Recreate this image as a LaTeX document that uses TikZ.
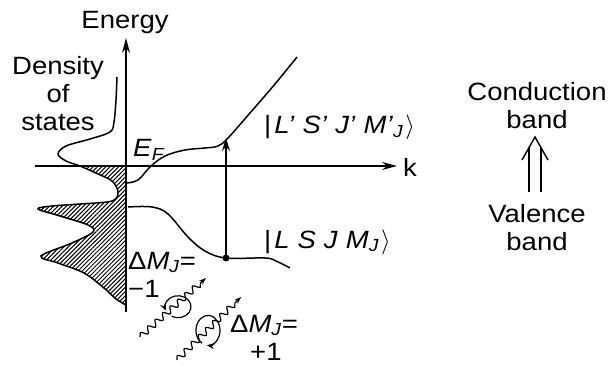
\documentclass[tikz,border=0pt]{standalone}
\usepackage{fontspec}
\setmainfont{Liberation Sans}[FakeStretch=1.1]
\usetikzlibrary{arrows.meta,patterns.meta,decorations.pathmorphing}

\tikzset{
  band/.style={line width=1.5pt},
  lbl/.style={font=\fontsize{25}{28}\selectfont, inner sep=0pt},
  photon/.style={line width=1.2pt, decorate,
    decoration={snake, amplitude=3pt, segment length=10pt, post length=7pt},
    -{Stealth[length=7pt,width=5pt]}},
  swirl/.style={line width=1.2pt, -{Stealth[length=7pt,width=6pt]}},
}

\begin{document}
\begin{tikzpicture}[x=1pt,y=-1pt]
  \useasboundingbox (0,0) rectangle (612,366);
  % Axes
  \coordinate (ebot) at (126,312);
  \coordinate (etop) at (126,38);
  \coordinate (kleft) at (35,166);
  \coordinate (kright) at (397,166);
  % Density of states, hatched below E_F
  \begin{scope}
    \clip (0,166) rectangle (126,366);
    \fill[pattern={Lines[angle=45,distance=3pt,line width=1pt]}]
      plot[smooth, tension=0.55] coordinates {(117,77) (116,100) (114,122) (110,132) (90,139) (66,146) (58,154) (66,161) (80,166) (98,174) (112,181) (118,192) (112,201) (80,204) (52,206) (38,209) (60,216) (88,225) (93,232) (72,243) (41,256) (58,263) (84,273) (104,288) (116,299) (126,305)}
      -- (126,77) -- cycle;
  \end{scope}
  \draw[band] plot[smooth, tension=0.55] coordinates {(117,77) (116,100) (114,122) (110,132) (90,139) (66,146) (58,154) (66,161) (80,166) (98,174) (112,181) (118,192) (112,201) (80,204) (52,206) (38,209) (60,216) (88,225) (93,232) (72,243) (41,256) (58,263) (84,273) (104,288) (116,299) (126,305)};
  \draw[line width=1.2pt,-{Stealth[length=15pt,width=8pt]}] (ebot) -- (etop);
  \draw[line width=1.2pt,-{Stealth[length=15pt,width=8pt]}] (kleft) -- (kright);
  % Conduction and valence bands
  \draw[band] plot[smooth, tension=0.6] coordinates {(126,183) (138,180) (150,167) (165,156) (185,150) (205,148) (218,146) (228,138) (250,113) (275,84) (297,57)};
  \draw[band] plot[smooth, tension=0.6] coordinates {(128,207) (152,207) (168,214) (188,237) (205,251) (226,258) (265,258) (276,261) (290,268)};
  % Transition
  \coordinate (vb) at (226,258);
  \coordinate (cb) at (226,138);
  \fill (vb) circle (3.5pt);
  \draw[line width=1.3pt,-{Stealth[length=13pt,width=8pt]}] (vb) -- (cb);
  % Labels
  \node[lbl, anchor=base] (energy) at (125,29) {Energy};
  \node[lbl, align=center, anchor=base] (dos) at (58,131) {Density\\of\\states};
  \node[lbl, anchor=base] (klbl) at (410,176) {k};
  \node[lbl, anchor=base west] (ef) at (133,157) {\textit{E}\textsubscript{\textit{F}}};
  \node[lbl, anchor=base west] (upper) at (264,134) {\textbar\hspace{3pt}\textit{L'}\hspace{8pt}\textit{S'}\hspace{8pt}\textit{J'}\hspace{8pt}\textit{M'}\textsubscript{\textit{J}}\hspace{2pt}$\rangle$};
  \node[lbl, anchor=base west] (lower) at (264,248) {\textbar\hspace{3pt}\textit{L}\hspace{8pt}\textit{S}\hspace{8pt}\textit{J}\hspace{8pt}\textit{M}\textsubscript{\textit{J}}\hspace{2pt}$\rangle$};
  \node[lbl, align=left, anchor=base west] (dmm) at (128,297) {Δ\textit{M}\textsubscript{\textit{J}}=\\−1};
  \node[lbl, align=left, anchor=base west] (dmp) at (230,360) {Δ\textit{M}\textsubscript{\textit{J}}=\\\hspace*{20pt}+1};
  % Photons with circular polarisation
  \coordinate (p1s) at (140,337);
  \coordinate (p1e) at (206,278);
  \coordinate (p2s) at (177,360);
  \coordinate (p2e) at (241,297);
  \draw[photon] (p1s) -- (p1e);
  \draw[photon] (p2s) -- (p2e);
  \draw[swirl] (178,305) ++(480:13) arc[start angle=480, end angle=160, x radius=13, y radius=11];
  \draw[swirl] (208,333) ++(-240:12) arc[start angle=-240, end angle=95, x radius=12, y radius=15];
  % Band scheme
  \node[lbl, align=center, anchor=base] (cond) at (537,129) {Conduction\\band};
  \node[lbl, align=center, anchor=base] (val) at (537,250) {Valence\\band};
  \coordinate (dbot) at (535,192);
  \coordinate (dneck) at (535,147);
  \coordinate (dtop) at (535,137);
  \draw[line width=1.4pt] ([shift={(-6,0)}]dbot) -- ([shift={(-6,0)}]dneck)
    ([shift={(6,0)}]dbot) -- ([shift={(6,0)}]dneck);
  \draw[line width=1.4pt, line join=miter] ([shift={(-13,23)}]dtop) -- (dtop) -- ([shift={(13,23)}]dtop);
\end{tikzpicture}
\end{document}
